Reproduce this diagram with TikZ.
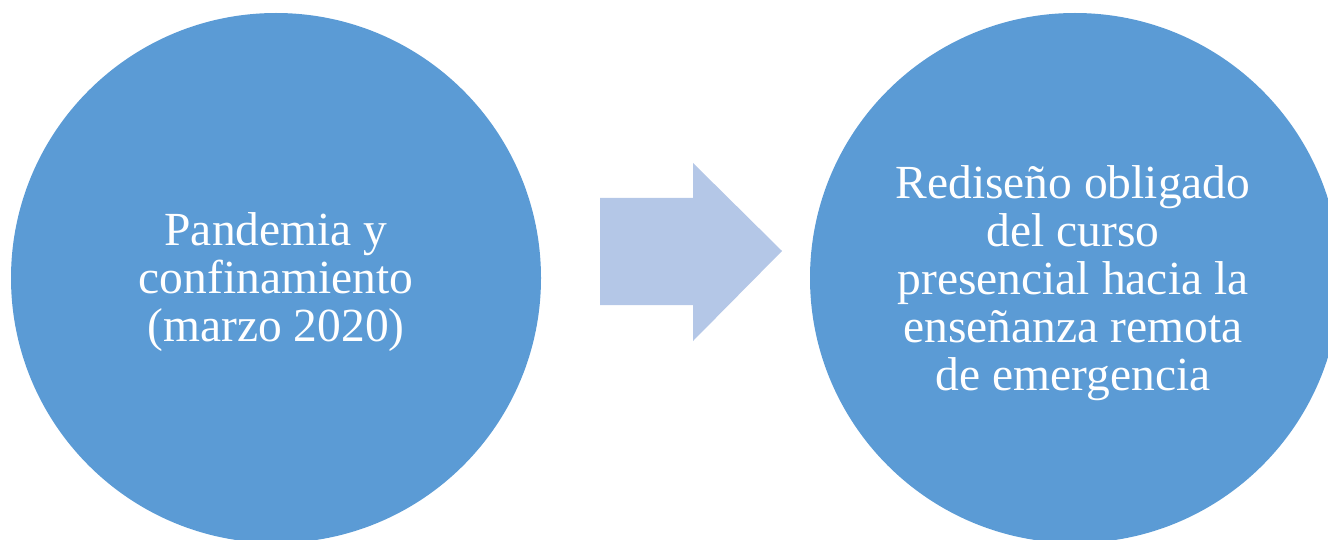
\documentclass[tikz,border=0pt]{standalone}
\usepackage{fontspec}
\setmainfont{Liberation Serif}
\definecolor{circblue}{HTML}{5B9BD5}
\definecolor{arrowblue}{HTML}{B4C7E7}
\begin{document}
\begin{tikzpicture}[x=1pt,y=-1pt,
  bigcircle/.style={circle,fill=circblue,draw=none,minimum size=530pt,inner sep=0pt},
  label/.style={text=white,align=center,font=\fontsize{47.5}{48}\selectfont}]
\useasboundingbox (0,0) rectangle (1328,540);
\begin{scope}
\clip (0,0) rectangle (1328,540);
\node[bigcircle] (left) at (276,278) {};
\node[bigcircle] (right) at (1075,278) {};
\fill[arrowblue] (600,198) -- (693,198) -- (693,163) -- (782,251) -- (693,341) -- (693,305) -- (600,305) -- cycle;
\end{scope}
\node[label] (lt) at (276,282) {Pandemia y\\confinamiento\\(marzo 2020)};
\node[label] (rt) at (1073,283) {Rediseño obligado\\del curso\\presencial hacia la\\enseñanza remota\\de emergencia};
\end{tikzpicture}
\end{document}
